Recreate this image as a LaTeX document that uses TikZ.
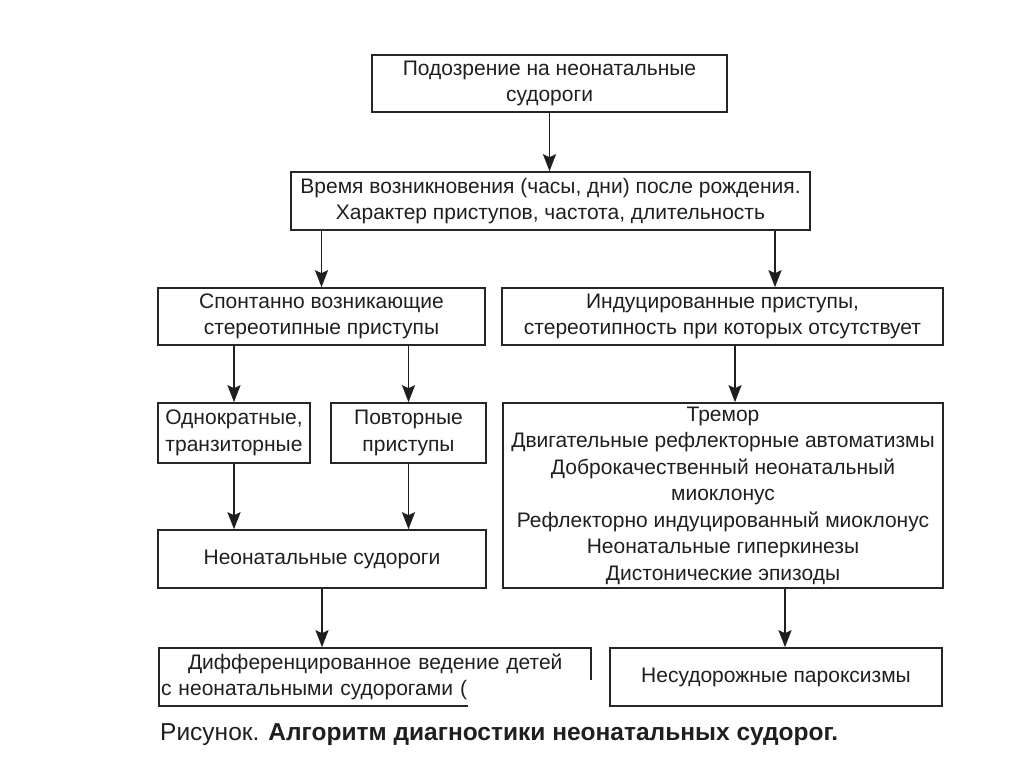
\documentclass[tikz,border=0pt]{standalone}
\usepackage{fontspec}
\setmainfont{Liberation Sans}
\usetikzlibrary{arrows.meta,calc}
\begin{document}
\begin{tikzpicture}[x=1pt,y=-1pt,
  box/.style={draw=black!85, line width=1.6pt, inner sep=0pt, align=center,
    text=black!88, font=\fontsize{21}{26.5}\selectfont},
  arr/.style={draw=black!88, line width=1.8pt, -{Stealth[length=17pt,width=13pt,inset=3pt]}}]
\useasboundingbox (0,0) rectangle (1024,768);

\node[box, minimum width=355, minimum height=57] (b1) at (549.5,83.5)
  {Подозрение на неонатальные\\судороги};
\node[box, minimum width=519, minimum height=58] (b2) at (550.5,201)
  {Время возникновения (часы, дни) после рождения.\\Характер приступов, частота, длительность};
\node[box, minimum width=327, minimum height=57] (b3l) at (321.5,316.5)
  {Спонтанно возникающие\\стереотипные приступы};
\node[box, minimum width=441, minimum height=57] (b3r) at (722.5,316.5)
  {Индуцированные приступы,\\стереотипность при которых отсутствует};
\node[box, minimum width=152, minimum height=60] (b4a) at (234,433)
  {Однократные,\\транзиторные};
\node[box, minimum width=155, minimum height=60] (b4b) at (408.5,433)
  {Повторные\\приступы};
\node[box, minimum width=440, minimum height=185] (br) at (723,495.5)
  {Тремор\\Двигательные рефлекторные автоматизмы\\Доброкачественный неонатальный\\миоклонус\\Рефлекторно индуцированный миоклонус\\Неонатальные гиперкинезы\\Дистонические эпизоды};
\node[box, minimum width=328, minimum height=58] (b5) at (322,559)
  {Неонатальные судороги};
\node[box, align=left, text width=428pt, inner xsep=2pt, minimum height=58] (b6) at (375,677)
  {\hspace*{27pt}Дифференцированное ведение детей\\с неонатальными судорогами (};
\node[box, minimum width=332, minimum height=58] (b7) at (776,677)
  {Несудорожные пароксизмы};

\fill[white] (468,680) rectangle (598,712);

\coordinate (xr) at (775,0);
\coordinate (xrr) at (735,0);
\coordinate (xb) at (785,0);

\draw[arr] (b1.south) -- (b2.north -| b1.south);
\draw[arr] (b2.south -| b3l.north) -- (b3l.north);
\draw[arr] (xr |- b2.south) -- (xr |- b3r.north);
\draw[arr] (b3l.south -| b4a.north) -- (b4a.north);
\draw[arr] (b3l.south -| b4b.north) -- (b4b.north);
\draw[arr] (xrr |- b3r.south) -- (xrr |- br.north);
\draw[arr] (b4a.south) -- (b5.north -| b4a.south);
\draw[arr] (b4b.south) -- (b5.north -| b4b.south);
\draw[arr] (b5.south) -- (b6.north -| b5.south);
\draw[arr] (xb |- br.south) -- (xb |- b7.north);

\node[anchor=base west, inner sep=0pt, text=black!88, font=\fontsize{24.5}{28}\selectfont] (cap) at (160,740)
  {Рисунок. \textbf{Алгоритм диагностики неонатальных судорог.}};
\end{tikzpicture}
\end{document}
